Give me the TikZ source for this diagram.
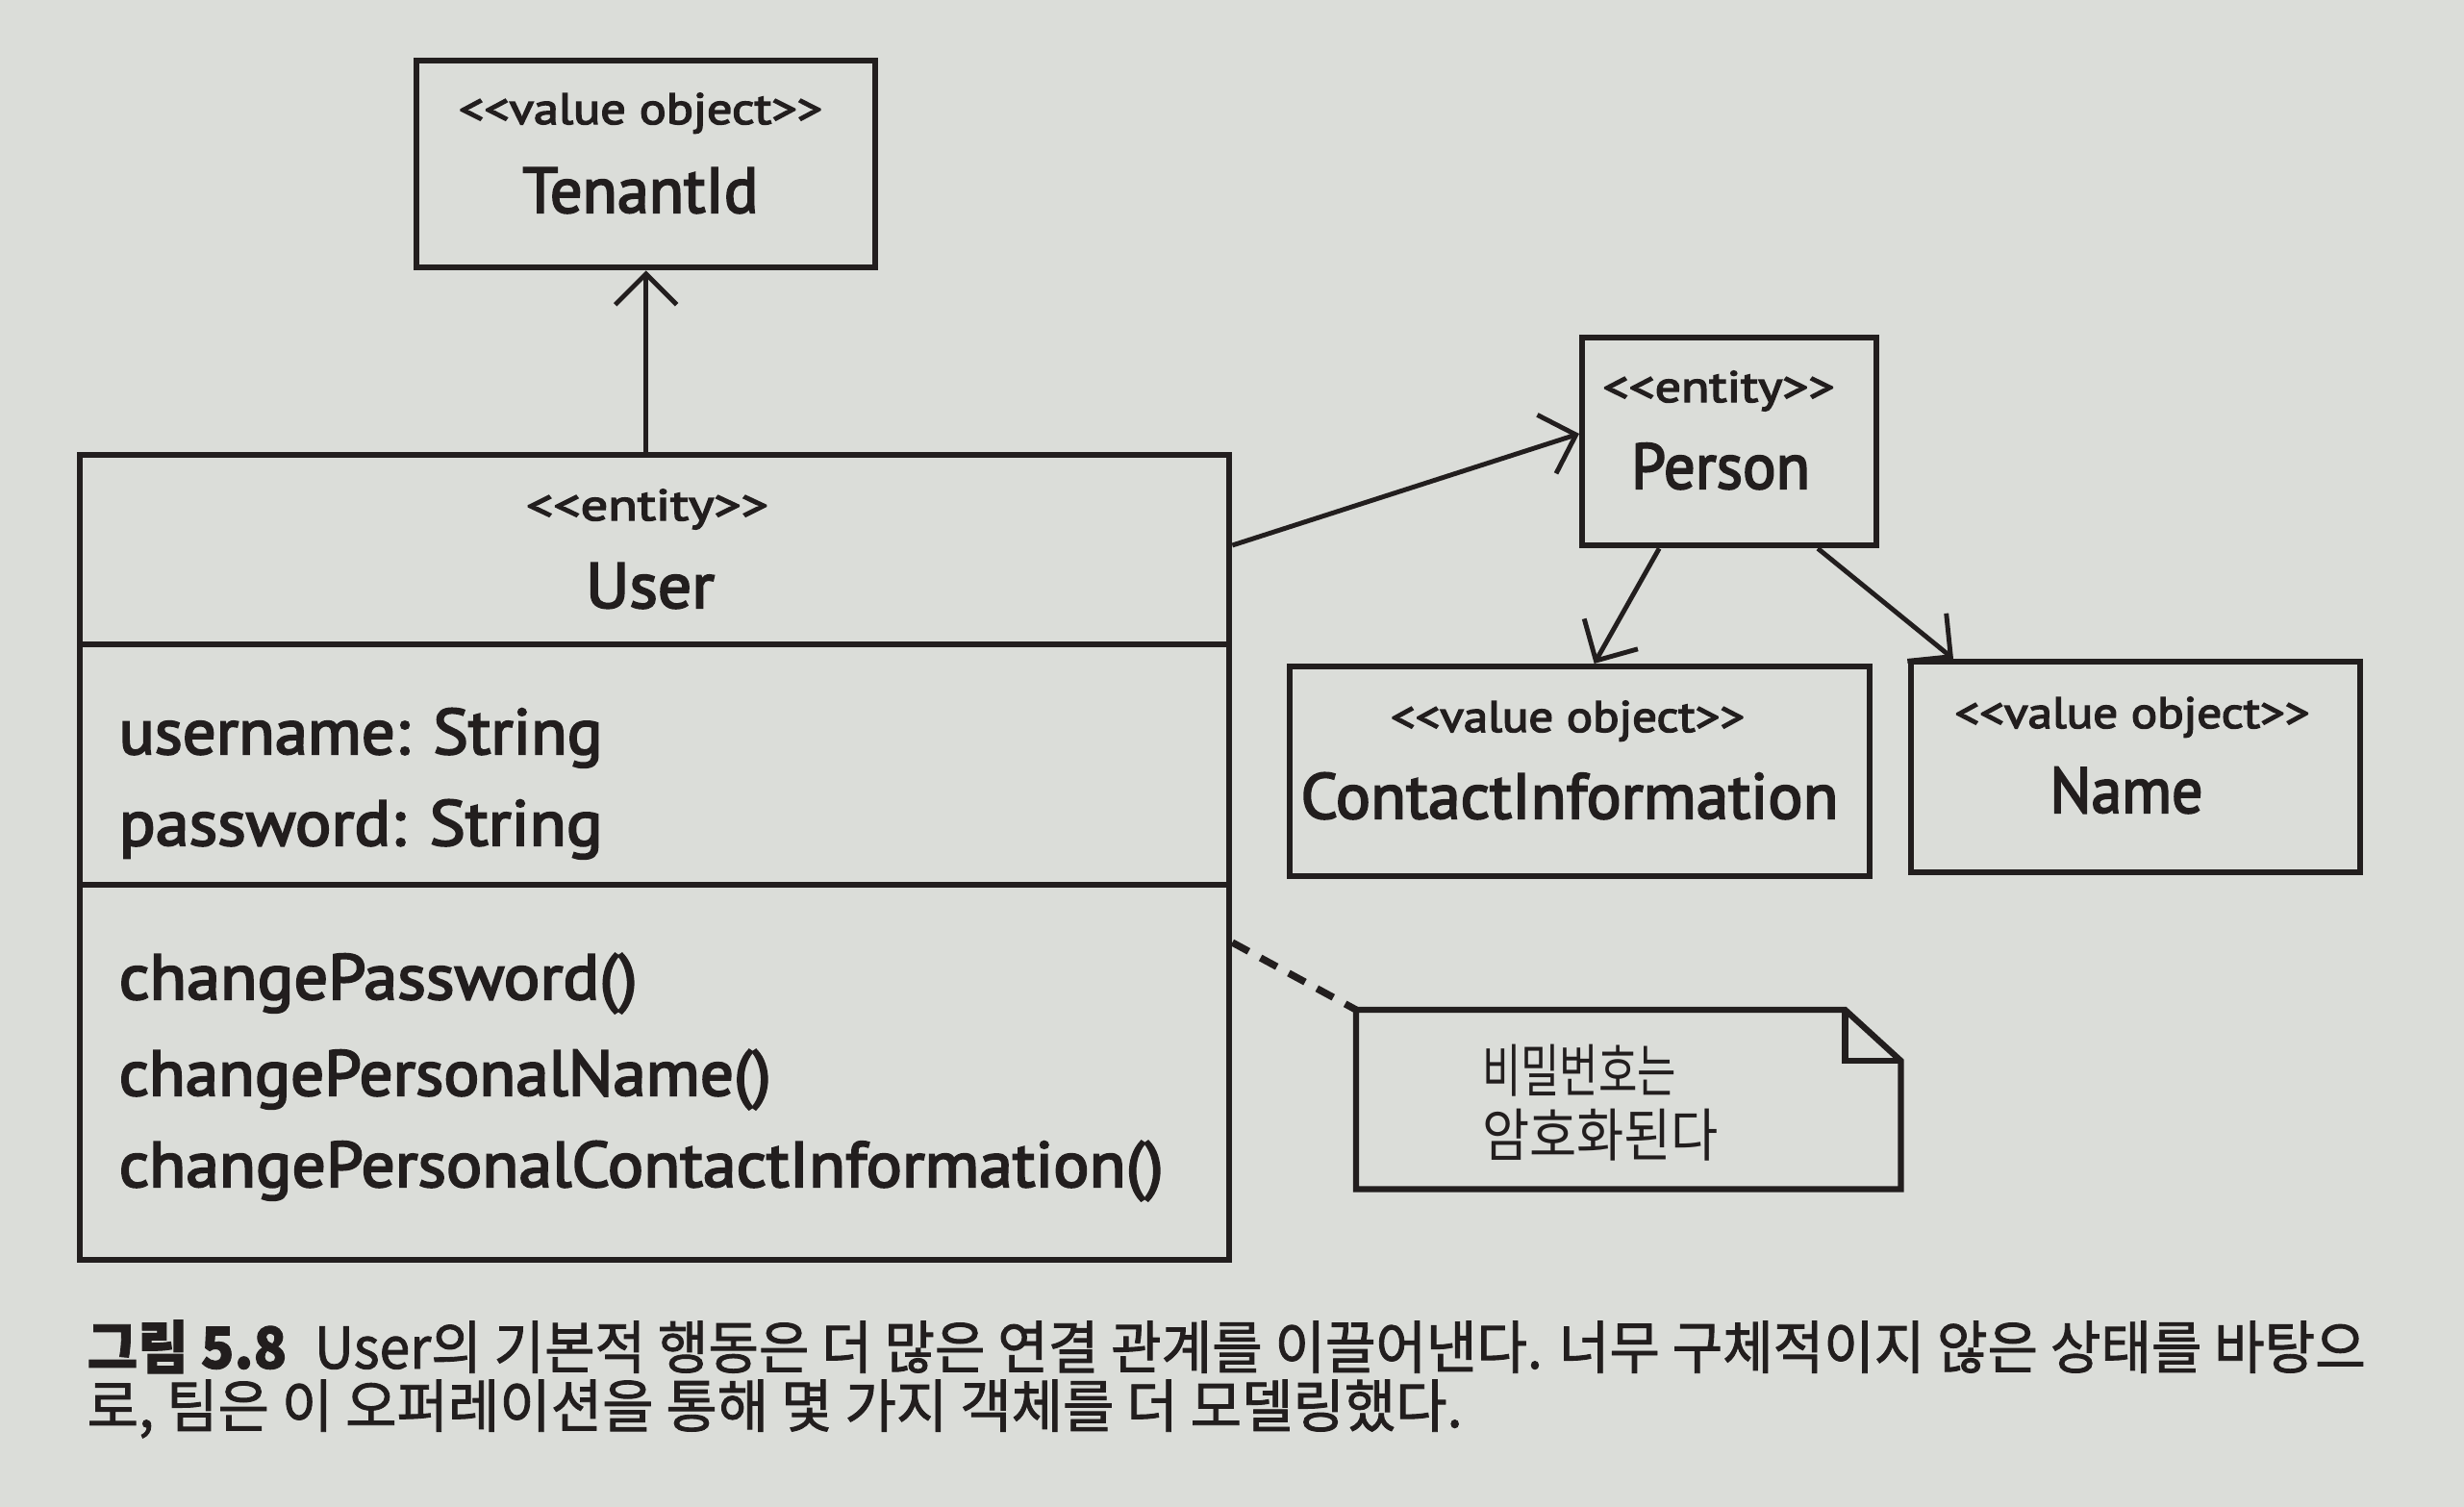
\documentclass[tikz,border=0pt]{standalone}
\usepackage{fontspec}
\usepackage{graphicx}
\setmainfont{PT Sans}
\newfontfamily\diag{PT Sans}[FakeBold=3]
\newfontfamily\kr{Noto Sans CJK KR}
\newfontfamily\krc{Noto Sans CJK KR}[FakeBold=1.5]
\usetikzlibrary{arrows.meta,calc}

\definecolor{paper}{RGB}{219,221,217}
\definecolor{ink}{RGB}{34,30,30}

% squeeze or stretch a text horizontally to a given width
\newcommand\wfit[2]{\resizebox{#1}{\height}{#2}}

\begin{document}
\begin{tikzpicture}[
  box/.style={draw=ink, line width=1.8pt, anchor=north west, inner sep=0pt},
  stereo/.style={text=ink, anchor=base, inner sep=0pt, font=\diag\fontsize{13}{15}\selectfont},
  cname/.style={text=ink, anchor=base, inner sep=0pt, font=\diag\fontsize{19}{23}\selectfont},
  member/.style={text=ink, anchor=base west, inner sep=0pt, font=\diag\fontsize{19}{23}\selectfont},
  arr/.style={draw=ink, line width=1.4pt, -{Straight Barb[length=3.2mm,width=6.4mm,line width=1.4pt]}},
  link/.style={draw=ink, line width=2.1pt, dash pattern=on 5.5pt off 4pt},
  notetext/.style={text=ink, anchor=base, inner sep=0pt, font=\kr\fontsize{17}{20}\selectfont},
  caption/.style={text=ink, anchor=base west, inner sep=0pt, font=\krc\fontsize{17}{20}\selectfont},
]
% page
\fill[paper] (0,0) rectangle (25.62,-15.67);
\useasboundingbox (0,0) rectangle (25.62,-15.67);

% TenantId
\node[box, minimum width=4.77cm, minimum height=2.15cm] (tenant) at (4.30,-0.60) {};
\node[stereo] (tenantS) at (6.66,-1.29) {\wfit{3.78cm}{<{}<value object>{}>}};
\node[cname] (tenantN) at (6.66,-2.21) {\wfit{2.45cm}{TenantId}};

% User
\node[box, minimum width=11.95cm, minimum height=8.37cm] (user) at (0.80,-4.70) {};
\draw[ink, line width=1.8pt] ($(user.north west)+(0,-2.00)$) -- ($(user.north east)+(0,-2.00)$);
\draw[ink, line width=1.8pt] ($(user.north west)+(0,-4.50)$) -- ($(user.north east)+(0,-4.50)$);
\node[stereo] (userS) at (6.73,-5.41) {\wfit{2.52cm}{<{}<entity>{}>}};
\node[cname] (userN) at (6.76,-6.32) {\wfit{1.34cm}{User}};
\node[member] (attr1) at (1.23,-7.84) {\wfit{5.03cm}{username: String}};
\node[member] (attr2) at (1.23,-8.79) {\wfit{5.03cm}{password: String}};
\node[member] (op1) at (1.23,-10.39) {\wfit{5.39cm}{changePassword()}};
\node[member] (op2) at (1.23,-11.39) {\wfit{6.78cm}{changePersonalName()}};
\node[member] (op3) at (1.23,-12.34) {\wfit{10.86cm}{changePersonalContactInformation()}};

% Person
\node[box, minimum width=3.06cm, minimum height=2.16cm] (person) at (16.42,-3.48) {};
\node[stereo] (personS) at (17.87,-4.18) {\wfit{2.41cm}{<{}<entity>{}>}};
\node[cname] (personN) at (17.89,-5.08) {\wfit{1.86cm}{Person}};

% ContactInformation
\node[box, minimum width=6.03cm, minimum height=2.18cm] (contact) at (13.38,-6.90) {};
\node[stereo] (contactS) at (16.30,-7.61) {\wfit{3.68cm}{<{}<value object>{}>}};
\node[cname] (contactN) at (16.32,-8.51) {\wfit{5.59cm}{ContactInformation}};

% Name
\node[box, minimum width=4.67cm, minimum height=2.19cm] (name) at (19.84,-6.85) {};
\node[stereo] (nameS) at (22.17,-7.57) {\wfit{3.69cm}{<{}<value object>{}>}};
\node[cname] (nameN) at (22.11,-8.45) {\wfit{1.59cm}{Name}};

% note with folded corner
\node[inner sep=0pt, minimum width=5.65cm, minimum height=1.85cm, anchor=north west] (note) at (14.10,-10.50) {};
\draw[ink, line width=1.8pt, line join=miter]
  (note.north west) -- ($(note.north east)+(-0.58,0)$) -- ($(note.north east)+(0,-0.53)$)
  -- (note.south east) -- (note.south west) -- cycle;
\draw[ink, line width=1.8pt]
  ($(note.north east)+(-0.58,0)$) -- ($(note.north east)+(-0.58,-0.53)$) -- ($(note.north east)+(0,-0.53)$);
\node[notetext] (noteL1) at (16.42,-11.35) {\wfit{2.02cm}{비밀번호는}};
\node[notetext] (noteL2) at (16.64,-12.02) {\wfit{2.46cm}{암호화된다}};

% connectors
\draw[arr] (user.north -| tenant.south) -- (tenant.south);
\draw[arr] ([yshift=-0.97cm]user.north east) -- ([yshift=-1.03cm]person.north west);
\draw[arr] ([xshift=-0.73cm]person.south) -- ([xshift=0.15cm]contact.north);
\draw[arr] ([xshift=0.92cm]person.south) -- ([xshift=0.47cm]name.north west);
\draw[link] ([yshift=-5.10cm]user.north east) -- (note.north west);

% figure caption
\node[caption] (cap1) at (0.90,-14.23) {\wfit{23.69cm}{{\bfseries 그림 5.8}\hspace{0.5em}User의 기본적 행동은 더 많은 연결 관계를 이끌어낸다. 너무 구체적이지 않은 상태를 바탕으}};
\node[caption] (cap2) at (0.90,-14.84) {\wfit{14.30cm}{로, 팀은 이 오퍼레이션을 통해 몇 가지 객체를 더 모델링했다.}};
\end{tikzpicture}
\end{document}
